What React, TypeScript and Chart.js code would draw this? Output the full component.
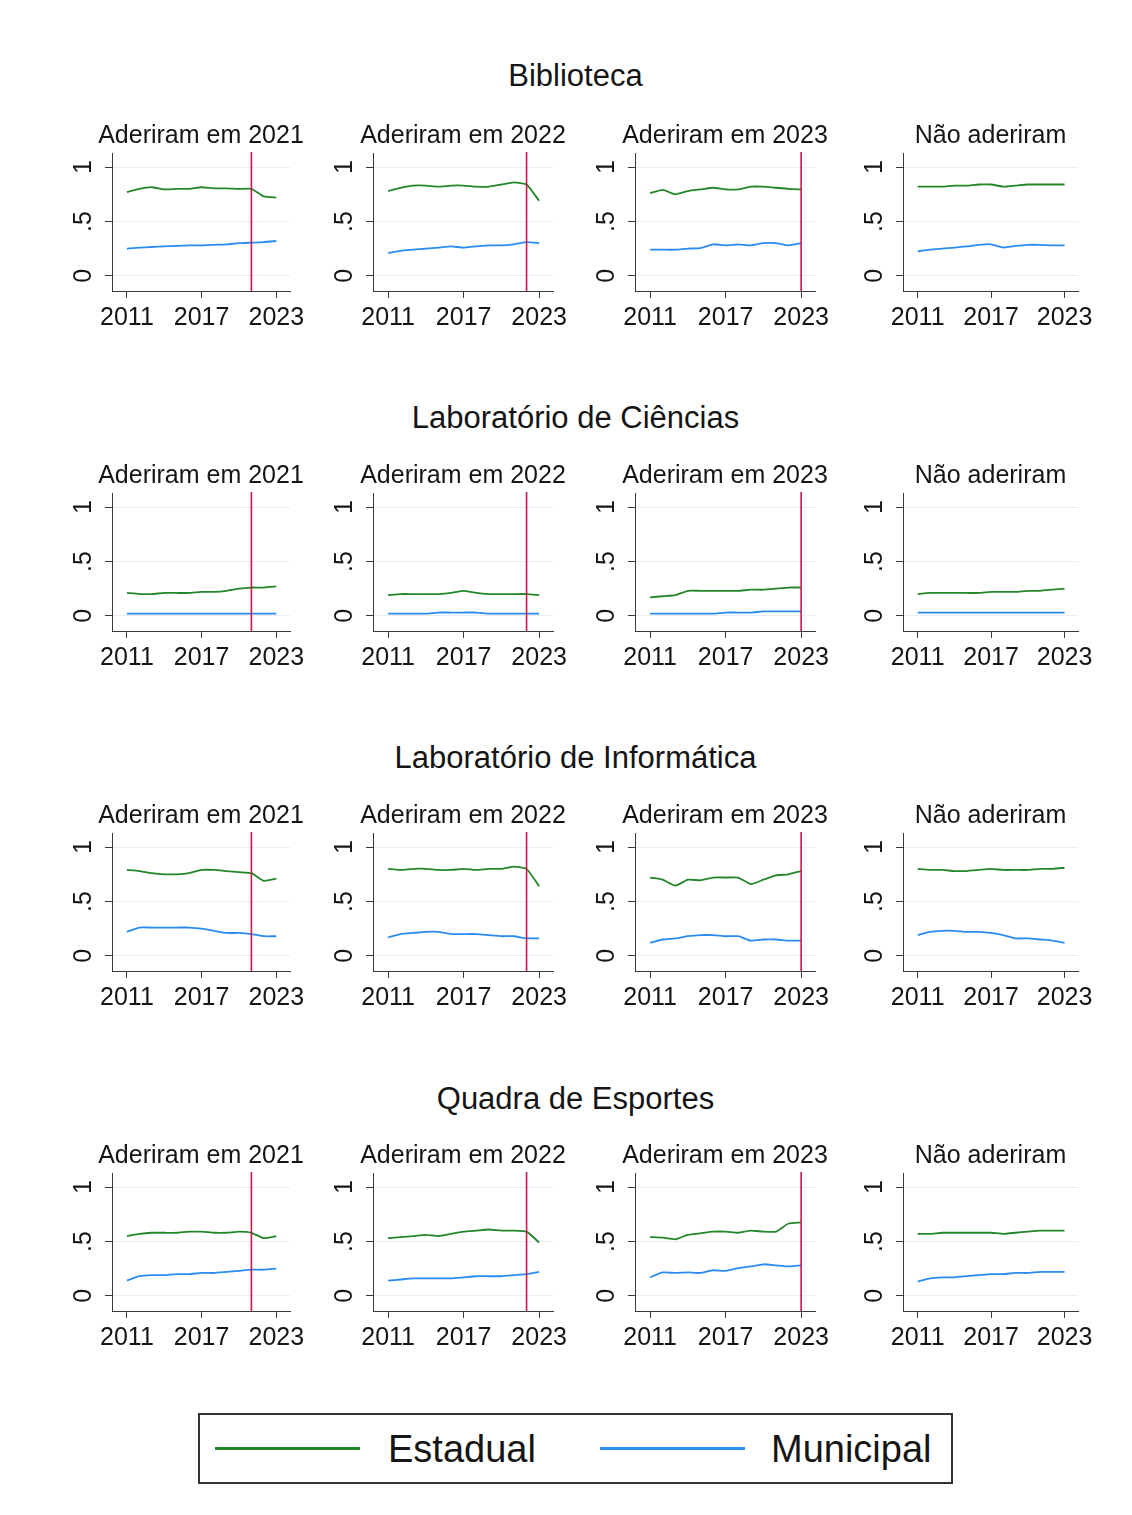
import React, { useEffect, useRef } from 'react';
import { Chart, registerables } from 'chart.js';

Chart.register(...registerables);

// ---------- data ----------
const years = [2011, 2012, 2013, 2014, 2015, 2016, 2017, 2018, 2019, 2020, 2021, 2022, 2023];
const groupTitles = ['Biblioteca', 'Laboratório de Ciências', 'Laboratório de Informática', 'Quadra de Esportes'];
const panelTitles = ['Aderiram em 2021', 'Aderiram em 2022', 'Aderiram em 2023', 'Não aderiram'];
const adoptionYears: (number | null)[] = [2021, 2022, 2023, null];
const xTicks = [2011, 2017, 2023];
const yTicks = [0, 0.5, 1];
const yTickLabels = ['0', '.5', '1'];
const seriesNames = ['Estadual', 'Municipal'];

// Biblioteca
const bib21Est = [0.77, 0.80, 0.815, 0.795, 0.80, 0.80, 0.815, 0.805, 0.805, 0.80, 0.80, 0.73, 0.72];
const bib21Mun = [0.25, 0.26, 0.265, 0.27, 0.275, 0.28, 0.28, 0.285, 0.29, 0.30, 0.305, 0.31, 0.32];
const bib22Est = [0.78, 0.81, 0.83, 0.83, 0.82, 0.83, 0.83, 0.82, 0.82, 0.84, 0.86, 0.84, 0.69];
const bib22Mun = [0.21, 0.23, 0.24, 0.25, 0.26, 0.27, 0.26, 0.27, 0.28, 0.28, 0.29, 0.31, 0.30];
const bib23Est = [0.76, 0.79, 0.75, 0.78, 0.795, 0.81, 0.795, 0.795, 0.82, 0.82, 0.81, 0.80, 0.795];
const bib23Mun = [0.24, 0.24, 0.24, 0.25, 0.255, 0.29, 0.28, 0.29, 0.28, 0.30, 0.30, 0.28, 0.30];
const bibNaoEst = [0.82, 0.82, 0.82, 0.83, 0.83, 0.84, 0.84, 0.82, 0.83, 0.84, 0.84, 0.84, 0.84];
const bibNaoMun = [0.225, 0.24, 0.25, 0.26, 0.27, 0.285, 0.29, 0.26, 0.275, 0.285, 0.285, 0.28, 0.28];

// Laboratório de Ciências
const cie21Est = [0.21, 0.20, 0.20, 0.21, 0.21, 0.21, 0.22, 0.22, 0.23, 0.25, 0.26, 0.26, 0.27];
const cie21Mun = [0.02, 0.02, 0.02, 0.02, 0.02, 0.02, 0.02, 0.02, 0.02, 0.02, 0.02, 0.02, 0.02];
const cie22Est = [0.19, 0.20, 0.20, 0.20, 0.20, 0.21, 0.23, 0.21, 0.20, 0.20, 0.20, 0.20, 0.19];
const cie22Mun = [0.02, 0.02, 0.02, 0.02, 0.03, 0.03, 0.03, 0.03, 0.02, 0.02, 0.02, 0.02, 0.02];
const cie23Est = [0.17, 0.18, 0.19, 0.23, 0.23, 0.23, 0.23, 0.23, 0.24, 0.24, 0.25, 0.26, 0.26];
const cie23Mun = [0.02, 0.02, 0.02, 0.02, 0.02, 0.02, 0.03, 0.03, 0.03, 0.04, 0.04, 0.04, 0.04];
const cieNaoEst = [0.20, 0.21, 0.21, 0.21, 0.21, 0.21, 0.22, 0.22, 0.22, 0.23, 0.23, 0.24, 0.25];
const cieNaoMun = [0.03, 0.03, 0.03, 0.03, 0.03, 0.03, 0.03, 0.03, 0.03, 0.03, 0.03, 0.03, 0.03];

// Laboratório de Informática
const inf21Est = [0.79, 0.78, 0.76, 0.75, 0.75, 0.76, 0.79, 0.79, 0.78, 0.77, 0.76, 0.69, 0.71];
const inf21Mun = [0.22, 0.26, 0.26, 0.26, 0.26, 0.26, 0.25, 0.23, 0.21, 0.21, 0.20, 0.18, 0.18];
const inf22Est = [0.80, 0.79, 0.80, 0.80, 0.79, 0.79, 0.80, 0.79, 0.80, 0.80, 0.82, 0.80, 0.64];
const inf22Mun = [0.17, 0.20, 0.21, 0.22, 0.22, 0.20, 0.20, 0.20, 0.19, 0.18, 0.18, 0.16, 0.16];
const inf23Est = [0.72, 0.70, 0.645, 0.70, 0.695, 0.72, 0.72, 0.72, 0.66, 0.70, 0.74, 0.75, 0.78];
const inf23Mun = [0.12, 0.15, 0.16, 0.18, 0.19, 0.19, 0.18, 0.18, 0.14, 0.15, 0.15, 0.14, 0.14];
const infNaoEst = [0.80, 0.79, 0.79, 0.78, 0.78, 0.79, 0.80, 0.79, 0.79, 0.79, 0.80, 0.80, 0.81];
const infNaoMun = [0.19, 0.22, 0.23, 0.23, 0.22, 0.22, 0.21, 0.19, 0.16, 0.16, 0.15, 0.14, 0.12];

// Quadra de Esportes
const qua21Est = [0.55, 0.57, 0.58, 0.58, 0.58, 0.59, 0.59, 0.58, 0.58, 0.59, 0.58, 0.53, 0.55];
const qua21Mun = [0.14, 0.18, 0.19, 0.19, 0.20, 0.20, 0.21, 0.21, 0.22, 0.23, 0.24, 0.24, 0.25];
const qua22Est = [0.53, 0.54, 0.55, 0.56, 0.55, 0.57, 0.59, 0.60, 0.61, 0.60, 0.60, 0.59, 0.49];
const qua22Mun = [0.14, 0.15, 0.16, 0.16, 0.16, 0.16, 0.17, 0.18, 0.18, 0.18, 0.19, 0.20, 0.22];
const qua23Est = [0.54, 0.535, 0.52, 0.56, 0.575, 0.59, 0.59, 0.58, 0.60, 0.59, 0.59, 0.665, 0.675];
const qua23Mun = [0.17, 0.215, 0.21, 0.215, 0.21, 0.235, 0.23, 0.255, 0.27, 0.29, 0.28, 0.27, 0.28];
const quaNaoEst = [0.57, 0.57, 0.58, 0.58, 0.58, 0.58, 0.58, 0.57, 0.58, 0.59, 0.60, 0.60, 0.60];
const quaNaoMun = [0.13, 0.16, 0.17, 0.17, 0.18, 0.19, 0.20, 0.20, 0.21, 0.21, 0.22, 0.22, 0.22];

const estadualGrid = [
  [bib21Est, bib22Est, bib23Est, bibNaoEst],
  [cie21Est, cie22Est, cie23Est, cieNaoEst],
  [inf21Est, inf22Est, inf23Est, infNaoEst],
  [qua21Est, qua22Est, qua23Est, quaNaoEst],
];
const municipalGrid = [
  [bib21Mun, bib22Mun, bib23Mun, bibNaoMun],
  [cie21Mun, cie22Mun, cie23Mun, cieNaoMun],
  [inf21Mun, inf22Mun, inf23Mun, infNaoMun],
  [qua21Mun, qua22Mun, qua23Mun, quaNaoMun],
];

// ---------- styles / layout ----------
const GREEN = '#23862a';
const BLUE = '#2b8cf0';
const RED = '#c8174a';
const AXIS = '#3a3a3a';
const GRID = '#e9eff1';
const TEXT = '#151515';
const SANS = "'Liberation Sans', Arial, sans-serif";

const colLefts = [112, 373, 635, 903];
const colWidths = [178, 180, 180, 175];
const rowTops = [153, 493, 833, 1173];
const groupBaselines = [87, 429, 769, 1110];
const PLOT_H = 138;
const Y_AXIS_W = 60;
const TITLE_H = 40;
const X_AXIS_H = 50;
const RIGHT_PAD = 30;

const treatPlugin = {
  id: 'treatLine',
  afterDatasetsDraw(chart: any, _args: any, opts: any) {
    if (opts == null || opts.year == null) return;
    const x = chart.scales.x.getPixelForValue(opts.year);
    const { top, bottom } = chart.chartArea;
    const ctx = chart.ctx;
    ctx.save();
    ctx.strokeStyle = RED;
    ctx.lineWidth = 1.6;
    ctx.beginPath();
    ctx.moveTo(x, top - 1);
    ctx.lineTo(x, bottom);
    ctx.stroke();
    ctx.restore();
  },
};

const panelTitlePlugin = {
  id: 'panelTitle',
  afterDraw(chart: any, _args: any, opts: any) {
    if (opts == null || !opts.text) return;
    const { left, right, top } = chart.chartArea;
    const ctx = chart.ctx;
    ctx.save();
    ctx.font = `25px ${SANS}`;
    ctx.fillStyle = TEXT;
    ctx.textAlign = 'center';
    ctx.textBaseline = 'middle';
    ctx.fillText(opts.text, (left + right) / 2, top - 16.5);
    ctx.restore();
  },
};

function Panel(props: { row: number; col: number }) {
  const { row, col } = props;
  const ref = useRef<HTMLCanvasElement>(null);
  const width = Y_AXIS_W + colWidths[col] + RIGHT_PAD;
  const height = TITLE_H + PLOT_H + X_AXIS_H;

  useEffect(() => {
    const est = estadualGrid[row][col];
    const mun = municipalGrid[row][col];
    const chart = new Chart(ref.current as HTMLCanvasElement, {
      type: 'line',
      data: {
        datasets: [
          {
            label: seriesNames[0],
            data: years.map((x, i) => ({ x, y: est[i] })),
            borderColor: GREEN,
            borderWidth: 1.8,
            pointRadius: 0,
            tension: 0.15,
            fill: false,
          },
          {
            label: seriesNames[1],
            data: years.map((x, i) => ({ x, y: mun[i] })),
            borderColor: BLUE,
            borderWidth: 1.8,
            pointRadius: 0,
            tension: 0.15,
            fill: false,
          },
        ],
      },
      options: {
        responsive: false,
        animation: false,
        devicePixelRatio: 1,
        layout: { padding: { left: 0, right: RIGHT_PAD, top: TITLE_H, bottom: 0 } },
        plugins: {
          legend: { display: false },
          tooltip: { enabled: false },
          title: { display: false },
          panelTitle: { text: panelTitles[col] },
          treatLine: { year: adoptionYears[col] },
        } as any,
        scales: {
          x: {
            type: 'linear',
            min: 2009.8,
            max: 2024.1,
            afterBuildTicks: (s: any) => {
              s.ticks = xTicks.map((v) => ({ value: v }));
            },
            afterFit: (s: any) => {
              s.height = X_AXIS_H;
            },
            grid: { drawOnChartArea: false, drawTicks: true, tickLength: 7, tickColor: AXIS, tickWidth: 1 },
            border: { color: AXIS, width: 1 },
            ticks: {
              autoSkip: false,
              maxRotation: 0,
              minRotation: 0,
              padding: 5,
              color: TEXT,
              font: { family: SANS, size: 25 },
              callback: (v: any) => String(v),
            },
          },
          y: {
            type: 'linear',
            min: -0.14,
            max: 1.13,
            afterBuildTicks: (s: any) => {
              s.ticks = yTicks.map((v) => ({ value: v }));
            },
            afterFit: (s: any) => {
              s.width = Y_AXIS_W;
            },
            grid: { color: GRID, lineWidth: 1, drawTicks: true, tickLength: 7, tickColor: AXIS, tickWidth: 1 },
            border: { color: AXIS, width: 1 },
            ticks: {
              autoSkip: false,
              minRotation: 90,
              maxRotation: 90,
              crossAlign: 'center',
              padding: 10,
              color: TEXT,
              font: { family: SANS, size: 25 },
              callback: (v: any) => yTickLabels[yTicks.indexOf(Number(v))] ?? '',
            },
          },
        } as any,
      },
      plugins: [treatPlugin, panelTitlePlugin],
    });
    return () => chart.destroy();
  }, [row, col]);

  return (
    <canvas
      ref={ref}
      width={width}
      height={height}
      style={{ position: 'absolute', left: colLefts[col] - Y_AXIS_W, top: rowTops[row] - TITLE_H, width, height }}
    />
  );
}

export default function App() {
  const panels: JSX.Element[] = [];
  for (let r = 0; r < 4; r++) {
    for (let c = 0; c < 4; c++) {
      panels.push(<Panel key={`${r}-${c}`} row={r} col={c} />);
    }
  }
  const legendText = {
    position: 'absolute' as const,
    top: 1430,
    lineHeight: '38px',
    fontSize: 38,
    fontFamily: SANS,
    color: TEXT,
    whiteSpace: 'nowrap' as const,
  };
  return (
    <div style={{ position: 'absolute', left: 0, top: 0, width: 1132, height: 1515, background: '#ffffff', overflow: 'hidden' }}>
      {groupTitles.map((t, i) => (
        <div
          key={t}
          style={{
            position: 'absolute',
            left: 575.5 - 400,
            width: 800,
            top: groupBaselines[i] - 27,
            height: 31,
            lineHeight: '31px',
            fontSize: 31,
            fontFamily: SANS,
            color: TEXT,
            textAlign: 'center',
            whiteSpace: 'nowrap',
          }}
        >
          {t}
        </div>
      ))}
      {panels}
      <div
        style={{
          position: 'absolute',
          left: 198,
          top: 1413,
          width: 755,
          height: 71,
          border: '2px solid #333',
          boxSizing: 'border-box',
        }}
      />
      <div style={{ position: 'absolute', left: 215, top: 1447, width: 145, height: 3, background: GREEN }} />
      <div style={{ ...legendText, left: 388 }}>{seriesNames[0]}</div>
      <div style={{ position: 'absolute', left: 600, top: 1447, width: 145, height: 3, background: BLUE }} />
      <div style={{ ...legendText, left: 771 }}>{seriesNames[1]}</div>
    </div>
  );
}
